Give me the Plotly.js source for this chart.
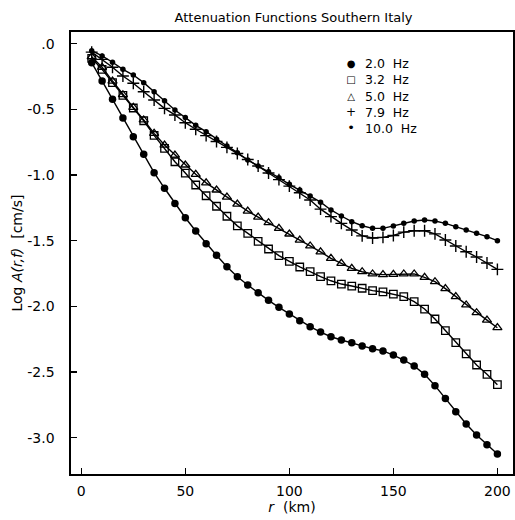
<!DOCTYPE html>
<html>
<head>
<meta charset="utf-8">
<script src="https://cdn.plot.ly/plotly-3.0.1.min.js"></script>
<style>html,body{margin:0;padding:0;background:#fff;}#chart{width:515px;height:520px;}</style>
</head>
<body>
<div id="chart"></div>
<script>
// distance r (km)
const distance = [5,10,15,20,25,30,35,40,45,50,55,60,65,70,75,80,85,90,95,100,105,110,115,120,125,130,135,140,145,150,155,160,165,170,175,180,185,190,195,200];

const logA_2_0Hz = [-0.145,-0.285,-0.424,-0.566,-0.708,-0.843,-0.982,-1.101,-1.216,-1.325,-1.426,-1.523,-1.611,-1.698,-1.774,-1.837,-1.896,-1.954,-2.007,-2.058,-2.109,-2.154,-2.195,-2.231,-2.256,-2.276,-2.301,-2.322,-2.339,-2.370,-2.408,-2.454,-2.517,-2.603,-2.700,-2.801,-2.895,-2.979,-3.052,-3.124];

const logA_3_2Hz = [-0.112,-0.196,-0.297,-0.394,-0.490,-0.587,-0.698,-0.797,-0.899,-0.985,-1.076,-1.158,-1.238,-1.314,-1.387,-1.444,-1.505,-1.563,-1.614,-1.657,-1.700,-1.736,-1.774,-1.805,-1.830,-1.845,-1.862,-1.880,-1.890,-1.906,-1.926,-1.964,-2.020,-2.096,-2.185,-2.276,-2.362,-2.446,-2.517,-2.596];

const logA_5_0Hz = [-0.100,-0.180,-0.285,-0.389,-0.485,-0.581,-0.683,-0.772,-0.848,-0.924,-0.995,-1.060,-1.114,-1.168,-1.222,-1.275,-1.320,-1.363,-1.406,-1.449,-1.495,-1.540,-1.585,-1.634,-1.672,-1.710,-1.736,-1.753,-1.758,-1.756,-1.753,-1.753,-1.779,-1.812,-1.865,-1.926,-1.989,-2.048,-2.104,-2.162];

const logA_7_9Hz = [-0.065,-0.120,-0.180,-0.247,-0.302,-0.366,-0.429,-0.493,-0.543,-0.602,-0.652,-0.700,-0.745,-0.790,-0.836,-0.882,-0.932,-0.985,-1.035,-1.085,-1.135,-1.190,-1.260,-1.317,-1.368,-1.418,-1.463,-1.479,-1.475,-1.460,-1.435,-1.424,-1.424,-1.448,-1.495,-1.540,-1.584,-1.624,-1.670,-1.718];

const logA_10_0Hz = [-0.054,-0.094,-0.142,-0.196,-0.239,-0.297,-0.366,-0.434,-0.505,-0.563,-0.622,-0.670,-0.728,-0.779,-0.830,-0.886,-0.932,-0.975,-1.020,-1.071,-1.114,-1.160,-1.207,-1.266,-1.312,-1.355,-1.386,-1.406,-1.406,-1.388,-1.368,-1.350,-1.342,-1.350,-1.368,-1.393,-1.418,-1.444,-1.469,-1.500];

const seriesNames = ['2.0\u00a0\u00a0Hz','3.2\u00a0\u00a0Hz','5.0\u00a0\u00a0Hz','7.9\u00a0\u00a0Hz','10.0\u00a0\u00a0Hz'];
const legendSymbols = ['\u25CF','\u25A1','\u25B3','+','\u2022'];
const legendSymbolPx = [10,10,10,12,13];
const xTickVals = [0,50,100,150,200];
const yTickVals = [0,-0.5,-1,-1.5,-2,-2.5,-3];
const yTickText = ['.0','-0.5','-1.0','-1.5','-2.0','-2.5','-3.0'];

const seriesY = [logA_2_0Hz, logA_3_2Hz, logA_5_0Hz, logA_7_9Hz, logA_10_0Hz];
const markerStyles = [
  {symbol:'circle', size:7.5, color:'#000', line:{width:0}},
  {symbol:'square-open', size:7.5, color:'#000', line:{width:1.3,color:'#000'}},
  {symbol:'triangle-up-open', size:8, color:'#000', line:{width:1.3,color:'#000'}},
  {symbol:'cross-thin-open', size:8.5, color:'#000', line:{width:1.4,color:'#000'}},
  {symbol:'circle', size:5.5, color:'#000', line:{width:0}}
];

const traces = seriesY.map((ys,i)=>({
  x: distance, y: ys, type:'scatter', mode:'lines+markers',
  name: seriesNames[i],
  line:{color:'#000', width:1.4},
  marker: markerStyles[i],
  showlegend:false, hoverinfo:'skip'
}));

const font = {family:'DejaVu Sans, sans-serif', color:'#000'};

// legend drawn as two compact text columns (symbols, labels)
const legendCenterPaper = (474 - 96)/442;
const annotations = [
  {xref:'paper', yref:'paper', x:(350.5-71)/442, y:legendCenterPaper, xanchor:'center', yanchor:'middle', align:'center',
   text: legendSymbols.map((s,i)=>'<span style="font-size:'+legendSymbolPx[i]+'px">'+s+'</span>').join('<br>'),
   showarrow:false, font:Object.assign({size:12.5}, font)},
  {xref:'paper', yref:'paper', x:(363-71)/442, y:legendCenterPaper, xanchor:'left', yanchor:'middle', align:'left',
   text: seriesNames.join('<br>'), showarrow:false, font:Object.assign({size:12.5}, font)}
];

const layout = {
  width:515, height:520,
  margin:{l:71, r:2, t:32, b:46, pad:0},
  paper_bgcolor:'#fff', plot_bgcolor:'#fff',
  font: Object.assign({size:14}, font),
  title:{text:'Attenuation Functions Southern Italy', x:0.57, xanchor:'center', y:0.967, yanchor:'middle', font:Object.assign({size:13}, font)},
  xaxis:{
    range:[-4.95,207.5], tickvals:xTickVals, ticks:'inside', ticklen:6, tickwidth:1.3, tickcolor:'#000',
    showline:true, linecolor:'#000', linewidth:1.6, mirror:true, showgrid:false, zeroline:false,
    tickfont:Object.assign({size:14}, font), ticklabelstandoff:4,
    title:{text:'<i>r</i>\u00a0\u00a0(km)', font:Object.assign({size:14}, font), standoff:2}
  },
  yaxis:{
    range:[-3.2755,0.0883], tickvals:yTickVals, ticktext:yTickText, ticks:'inside', ticklen:6, tickwidth:1.3, tickcolor:'#000',
    showline:true, linecolor:'#000', linewidth:1.6, mirror:true, showgrid:false, zeroline:false,
    tickfont:Object.assign({size:14}, font), ticklabelstandoff:12,
    title:{text:'Log\u00a0<i>A(r,f)</i>\u00a0\u00a0[cm/s]', font:Object.assign({size:14}, font), standoff:1}
  },
  annotations: annotations,
  showlegend:false
};
Plotly.newPlot('chart', traces, layout, {displayModeBar:false, staticPlot:true});
</script>
</body>
</html>
